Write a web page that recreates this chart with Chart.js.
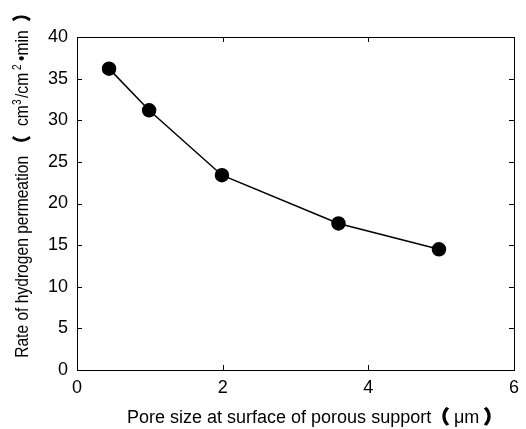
<!DOCTYPE html>
<html>
<head>
<meta charset="utf-8">
<script src="https://cdn.jsdelivr.net/npm/chart.js@4"></script>
<style>
  html, body { margin: 0; padding: 0; background: #fff; }
  canvas { display: block; }
</style>
</head>
<body>
<canvas id="chart" width="526" height="429"></canvas>
<script>
// Data
const poreSize = [0.44, 0.99, 1.99, 3.59, 4.97];
const permeationRate = [36.2, 31.2, 23.4, 17.6, 14.5];
const xTicks = [0, 2, 4, 6];
const yTicks = [0, 5, 10, 15, 20, 25, 30, 35, 40];

const LATIN = 'Liberation Sans, Arial, sans-serif';
const CJK = '"Noto Sans CJK SC", sans-serif';

// Axis titles as runs; "at" = where the ink of the run starts along the baseline
const xTitleRuns = [
    { text: 'Pore size at surface of porous support', font: '18px ' + LATIN, at: 0 },
    { text: '\uFF08', font: 'bold 18px ' + CJK, at: 314, heavy: true },
    { text: '\u03BCm', font: '18px ' + LATIN, at: 327 },
    { text: '\uFF09', font: 'bold 18px ' + CJK, at: 356, heavy: true }
];
const yTitleRuns = [
    { text: 'Rate of hydrogen permeation', font: '18.5px ' + LATIN, at: 0 },
    { text: '\uFF08', font: 'bold 18px ' + CJK, at: 215, heavy: true },
    { text: 'cm', font: '18.5px ' + LATIN, at: 231 },
    { text: '3', font: '12px ' + LATIN, at: 252, rise: 7 },
    { text: '/cm', font: '18.5px ' + LATIN, at: 259 },
    { text: '2', font: '12px ' + LATIN, at: 287, rise: 7 },
    { text: '\u2022min', font: '18.5px ' + LATIN, at: 296 },
    { text: '\uFF09', font: 'bold 18px ' + CJK, at: 336, heavy: true }
];

function drawRuns(ctx, runs, sx) {
    ctx.save();
    ctx.scale(sx, 1);
    runs.forEach(r => {
        ctx.font = r.font;
        const m = ctx.measureText(r.text);
        const x = r.at / sx + m.actualBoundingBoxLeft;
        const y = -(r.rise || 0);
        ctx.fillText(r.text, x, y);
        if (r.heavy) {
            // the brackets in the reference are drawn heavier than the text
            ctx.lineWidth = 1.2;
            ctx.strokeText(r.text, x, y);
        }
    });
    ctx.restore();
}

// Frame, inward tick marks on all four sides, and the axis titles
const frameTicks = {
    id: 'frameTicks',
    afterDraw(chart) {
        const { ctx, chartArea: a, scales } = chart;
        const len = 5;
        ctx.save();
        ctx.strokeStyle = '#000';
        ctx.lineWidth = 1;
        ctx.strokeRect(a.left + 0.5, a.top + 0.5, a.right - a.left, a.bottom - a.top);
        ctx.beginPath();
        xTicks.forEach(v => {
            const x = Math.round(scales.x.getPixelForValue(v)) + 0.5;
            ctx.moveTo(x, a.bottom); ctx.lineTo(x, a.bottom - len);
            ctx.moveTo(x, a.top); ctx.lineTo(x, a.top + len);
        });
        yTicks.forEach(v => {
            const y = Math.round(scales.y.getPixelForValue(v)) + 0.5;
            ctx.moveTo(a.left, y); ctx.lineTo(a.left + len, y);
            ctx.moveTo(a.right, y); ctx.lineTo(a.right - len, y);
        });
        ctx.stroke();

        ctx.fillStyle = '#000';
        ctx.textBaseline = 'alphabetic';
        ctx.textAlign = 'left';
        ctx.save();
        ctx.translate(128, 423);
        drawRuns(ctx, xTitleRuns, 1);
        ctx.restore();
        ctx.save();
        ctx.translate(28, 357);
        ctx.rotate(-Math.PI / 2);
        drawRuns(ctx, yTitleRuns, 0.843);
        ctx.restore();
        ctx.restore();
    }
};

const tickFont = { family: LATIN, size: 18 };

new Chart(document.getElementById('chart').getContext('2d'), {
    type: 'scatter',
    data: {
        datasets: [{
            data: poreSize.map((x, i) => ({ x: x, y: permeationRate[i] })),
            showLine: true,
            borderColor: '#000',
            backgroundColor: '#000',
            borderWidth: 1.5,
            pointRadius: 6.5,
            pointHoverRadius: 6.5
        }]
    },
    options: {
        responsive: false,
        animation: false,
        layout: { padding: { top: 37, right: 5, left: 0, bottom: 0 } },
        plugins: { legend: { display: false }, tooltip: { enabled: false } },
        scales: {
            x: {
                type: 'linear',
                min: 0,
                max: 6,
                afterBuildTicks: s => { s.ticks = xTicks.map(v => ({ value: v })); },
                afterFit: s => { s.height = 59; },
                grid: { display: false, drawTicks: false },
                border: { display: false },
                ticks: { color: '#000', font: tickFont, padding: 7, maxRotation: 0 }
            },
            y: {
                min: 0,
                max: 40,
                afterBuildTicks: s => { s.ticks = yTicks.map(v => ({ value: v })); },
                afterFit: s => { s.width = 77; },
                grid: { display: false, drawTicks: false },
                border: { display: false },
                ticks: { color: '#000', font: tickFont, padding: 9 }
            }
        }
    },
    plugins: [frameTicks]
});
</script>
</body>
</html>
